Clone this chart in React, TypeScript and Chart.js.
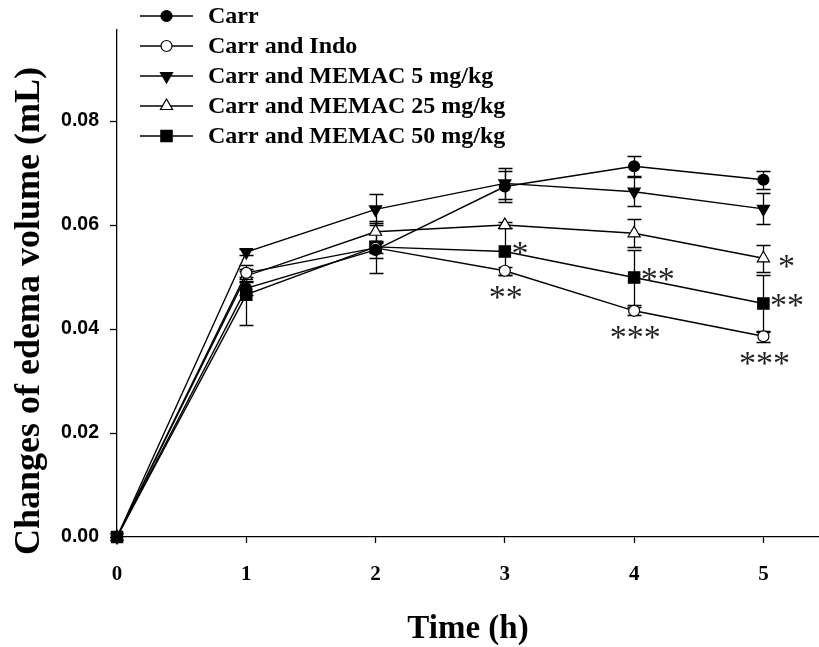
import React, { useEffect, useRef } from 'react';
import { Chart, registerables } from 'chart.js';

Chart.register(...registerables);

// ---- Data ----
const TIMES = [0, 1, 2, 3, 4, 5];
const X_TICKS = [0, 1, 2, 3, 4, 5];
const Y_TICKS = [0, 0.02, 0.04, 0.06, 0.08];

const SERIES_NAMES = [
  'Carr',
  'Carr and Indo',
  'Carr and MEMAC 5 mg/kg',
  'Carr and MEMAC 25 mg/kg',
  'Carr and MEMAC 50 mg/kg',
];

const CARR = [0, 0.0478, 0.0552, 0.0674, 0.0713, 0.0687];
const CARR_ERR = [0, 0.0012, 0.0015, 0.003, 0.0019, 0.0017];

const INDO = [0, 0.0508, 0.0556, 0.0512, 0.0435, 0.0386];
const INDO_ERR = [0, 0.0008, 0.001, 0.0008, 0.0008, 0.0011];

const MEMAC5 = [0, 0.0548, 0.063, 0.068, 0.0664, 0.0631];
const MEMAC5_ERR = [0, 0.0005, 0.003, 0.003, 0.0028, 0.003];

const MEMAC25 = [0, 0.0502, 0.0587, 0.06, 0.0584, 0.0536];
const MEMAC25_ERR = [0, 0.001, 0.0017, 0.0005, 0.0027, 0.0026];

const MEMAC50 = [0, 0.0466, 0.0558, 0.0549, 0.0499, 0.0449];
const MEMAC50_ERR = [0, 0.0058, 0.005, 0.0045, 0.0052, 0.0055];

const INDO_SIG = ['', '', '', '**', '***', '***'];
const MEMAC25_SIG = ['', '', '', '', '', '*'];
const MEMAC50_SIG = ['', '', '', '*', '**', '**'];

const SERIF = '"Liberation Serif", "Times New Roman", serif';
const SANS = '"Liberation Sans", Arial, sans-serif';

type Marker = { style: string; rotation: number; radius: number; fill: string };

function drawMarker(ctx: CanvasRenderingContext2D, m: Marker, x: number, y: number) {
  ctx.save();
  ctx.fillStyle = m.fill;
  ctx.strokeStyle = '#000';
  ctx.lineWidth = 1.2;
  ctx.beginPath();
  const r = m.radius;
  if (m.style === 'circle') {
    ctx.arc(x, y, r, 0, Math.PI * 2);
  } else if (m.style === 'triangle') {
    let rad = (m.rotation * Math.PI) / 180;
    ctx.moveTo(x + Math.sin(rad) * r, y - Math.cos(rad) * r);
    rad += (2 * Math.PI) / 3;
    ctx.lineTo(x + Math.sin(rad) * r, y - Math.cos(rad) * r);
    rad += (2 * Math.PI) / 3;
    ctx.lineTo(x + Math.sin(rad) * r, y - Math.cos(rad) * r);
    ctx.closePath();
  } else {
    const s = Math.SQRT1_2 * r;
    ctx.rect(x - s, y - s, 2 * s, 2 * s);
  }
  ctx.fill();
  ctx.stroke();
  ctx.restore();
}

const errorBarPlugin = {
  id: 'errorBars',
  beforeDatasetsDraw(chart: any) {
    const { ctx, scales } = chart;
    const xs = scales.x;
    const ys = scales.y;
    ctx.save();
    ctx.strokeStyle = '#000';
    ctx.lineWidth = 1.3;
    chart.data.datasets.forEach((ds: any) => {
      ds.data.forEach((p: any, i: number) => {
        const e = ds.err[i];
        if (!e) return;
        const px = Math.round(xs.getPixelForValue(p.x)) + 0.5;
        const top = Math.round(ys.getPixelForValue(p.y + e)) + 0.5;
        const bot = Math.round(ys.getPixelForValue(p.y - e)) + 0.5;
        ctx.beginPath();
        ctx.moveTo(px, top);
        ctx.lineTo(px, bot);
        ctx.moveTo(px - 7, top);
        ctx.lineTo(px + 7, top);
        ctx.moveTo(px - 7, bot);
        ctx.lineTo(px + 7, bot);
        ctx.stroke();
      });
    });
    ctx.restore();
  },
};

const sigPlugin = {
  id: 'significance',
  afterDatasetsDraw(chart: any) {
    const { ctx, scales } = chart;
    const xs = scales.x;
    const ys = scales.y;
    const size = 34;
    ctx.save();
    ctx.fillStyle = '#222';
    ctx.font = `${size}px ${SERIF}`;
    ctx.textBaseline = 'alphabetic';
    chart.data.datasets.forEach((ds: any) => {
      if (!ds.sig) return;
      ds.data.forEach((p: any, i: number) => {
        const s = ds.sig[i];
        if (!s) return;
        const px = xs.getPixelForValue(p.x);
        const py = ys.getPixelForValue(p.y);
        const lift = size * 0.4;
        if (ds.sigPos === 'below') {
          ctx.textAlign = 'center';
          ctx.fillText(s, px + 1, py + 24 + lift);
        } else {
          ctx.textAlign = 'left';
          ctx.fillText(s, px + ds.sigDx - size * 0.1, py + ds.sigDy + lift);
        }
      });
    });
    ctx.restore();
  },
};

const legendPlugin = {
  id: 'customLegend',
  afterDraw(chart: any) {
    const { ctx } = chart;
    ctx.save();
    chart.data.datasets.forEach((ds: any, i: number) => {
      const y = 16 + i * 30;
      ctx.strokeStyle = '#000';
      ctx.lineWidth = 1.5;
      ctx.beginPath();
      ctx.moveTo(140, y);
      ctx.lineTo(193, y);
      ctx.stroke();
      drawMarker(
        ctx,
        { style: ds.pointStyle, rotation: ds.pointRotation || 0, radius: ds.pointRadius, fill: ds.pointBackgroundColor },
        166.5,
        y
      );
      ctx.fillStyle = '#000';
      ctx.font = `bold 24px ${SERIF}`;
      ctx.textAlign = 'left';
      ctx.textBaseline = 'middle';
      ctx.fillText(ds.label, 208, y + 1);
    });
    ctx.restore();
  },
};

const yTitlePlugin = {
  id: 'yTitle',
  afterDraw(chart: any) {
    const { ctx } = chart;
    ctx.save();
    ctx.translate(30, 311);
    ctx.rotate(-Math.PI / 2);
    ctx.fillStyle = '#000';
    ctx.font = `bold 36px ${SERIF}`;
    ctx.textAlign = 'center';
    ctx.textBaseline = 'middle';
    ctx.fillText('Changes of edema volume (mL)', 0, 0);
    ctx.restore();
  },
};

function makeDataset(
  label: string,
  values: number[],
  err: number[],
  style: string,
  radius: number,
  fill: string,
  rotation = 0,
  sig: string[] | null = null,
  sigPos = 'right',
  sigDx = 10,
  sigDy = 0
) {
  return {
    label,
    data: TIMES.map((t, i) => ({ x: t, y: values[i] })),
    err,
    sig,
    sigPos,
    sigDx,
    sigDy,
    borderColor: '#000',
    borderWidth: 1.4,
    tension: 0,
    fill: false,
    pointStyle: style,
    pointRotation: rotation,
    pointRadius: radius,
    pointHoverRadius: radius,
    pointBackgroundColor: fill,
    pointBorderColor: '#000',
    pointBorderWidth: 1.2,
    clip: false,
  };
}

export default function App() {
  const ref = useRef<HTMLCanvasElement | null>(null);

  useEffect(() => {
    if (!ref.current) return;
    const datasets = [
      makeDataset(SERIES_NAMES[0], CARR, CARR_ERR, 'circle', 5.5, '#000'),
      makeDataset(SERIES_NAMES[1], INDO, INDO_ERR, 'circle', 5.5, '#fff', 0, INDO_SIG, 'below'),
      makeDataset(SERIES_NAMES[2], MEMAC5, MEMAC5_ERR, 'triangle', 7, '#000', 180),
      makeDataset(SERIES_NAMES[3], MEMAC25, MEMAC25_ERR, 'triangle', 7, '#fff', 0, MEMAC25_SIG, 'right', 18, 5),
      makeDataset(SERIES_NAMES[4], MEMAC50, MEMAC50_ERR, 'rect', 8, '#000', 0, MEMAC50_SIG, 'right', 10, -1),
    ];
    const chart = new Chart(ref.current, {
      type: 'line',
      data: { datasets: datasets as any },
      options: {
        animation: false,
        responsive: false,
        devicePixelRatio: 1,
        layout: { autoPadding: false, padding: { top: 30, left: 0, right: 0, bottom: 0 } },
        plugins: {
          legend: { display: false },
          tooltip: { enabled: false },
        },
        events: [],
        scales: {
          x: {
            type: 'linear',
            position: 'bottom',
            min: 0,
            max: 5.43,
            afterBuildTicks: (s: any) => {
              s.ticks = X_TICKS.map((v) => ({ value: v }));
            },
            afterFit: (s: any) => {
              s.height = 110;
            },
            grid: {
              display: true,
              drawOnChartArea: false,
              drawTicks: true,
              tickLength: 6,
              tickColor: '#000',
              tickWidth: 1.3,
            },
            border: { display: true, color: '#000', width: 1.3 },
            ticks: {
              color: '#000',
              padding: 19,
              font: { family: SERIF, weight: 'bold', size: 21 },
              callback: (v: any) => String(v),
            },
            title: {
              display: true,
              text: 'Time (h)',
              color: '#000',
              font: { family: SERIF, weight: 'bold', size: 33, lineHeight: 1.08 },
              padding: { top: 0, bottom: 0 },
            },
          },
          y: {
            type: 'linear',
            min: 0,
            max: 0.0975,
            afterBuildTicks: (s: any) => {
              s.ticks = Y_TICKS.map((v) => ({ value: v }));
            },
            afterFit: (s: any) => {
              s.width = 117;
            },
            grid: {
              display: true,
              drawOnChartArea: false,
              drawTicks: true,
              tickLength: 7,
              tickColor: '#000',
              tickWidth: 1.3,
            },
            border: { display: true, color: '#000', width: 1.3 },
            ticks: {
              color: '#000',
              padding: 11,
              font: { family: SANS, weight: 'bold', size: 19.5 },
              callback: (v: any) => Number(v).toFixed(2),
            },
          },
        },
      } as any,
      plugins: [errorBarPlugin, sigPlugin, legendPlugin, yTitlePlugin],
    });
    return () => chart.destroy();
  }, []);

  return (
    <div style={{ position: 'absolute', left: 0, top: 0, width: 819, height: 647, background: '#fff' }}>
      <canvas ref={ref} width={819} height={647} style={{ display: 'block' }} />
    </div>
  );
}
